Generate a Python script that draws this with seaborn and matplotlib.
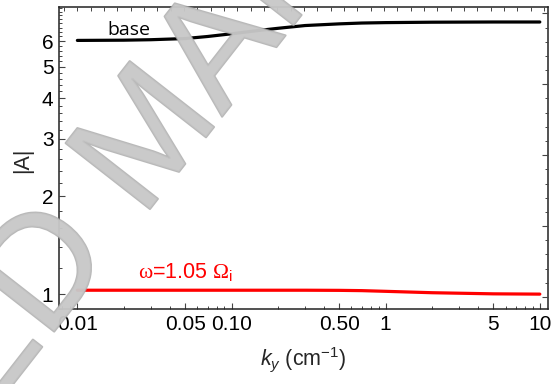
import numpy as np
import pandas as pd
import seaborn as sns
import matplotlib
matplotlib.use("Agg")
import matplotlib.pyplot as plt
from matplotlib import ticker, font_manager
from matplotlib.font_manager import FontProperties
from matplotlib.textpath import TextToPath
import matplotlib.patheffects as pe

# ---- data ----
ky = [0.01, 0.02, 0.03, 0.05, 0.07, 0.1, 0.15, 0.2, 0.3, 0.5, 0.7, 1, 2, 5, 10]
A_base = [6.03, 6.04, 6.06, 6.11, 6.20, 6.32, 6.47, 6.57, 6.70, 6.78, 6.82, 6.84, 6.86, 6.87, 6.87]
A_w105 = [1.028, 1.028, 1.028, 1.028, 1.028, 1.028, 1.028, 1.028, 1.028, 1.027, 1.025, 1.02, 1.01, 1.002, 1.0]
series = ["base", "w105"]
series_colors = {"base": "black", "w105": "#ff0000"}

x_major = [0.01, 0.05, 0.1, 0.5, 1, 5, 10]
x_major_labels = ["0.01", "0.05", "0.10", "0.50", "1", "5", "10"]
y_major = [1, 2, 3, 4, 5, 6]
y_major_labels = ["1", "2", "3", "4", "5", "6"]

df = pd.concat([
    pd.DataFrame({"ky": ky, "A": A_base, "series": "base"}),
    pd.DataFrame({"ky": ky, "A": A_w105, "series": "w105"}),
])

sns.set_theme(style="white")
plt.rcParams["font.family"] = ["Liberation Sans", "DejaVu Sans"]
plt.rcParams["mathtext.fontset"] = "custom"
plt.rcParams["mathtext.rm"] = "Liberation Serif"
plt.rcParams["mathtext.it"] = "Liberation Sans:italic"
plt.rcParams["mathtext.sf"] = "Liberation Sans"

W, H = 553, 384
fig = plt.figure(figsize=(W / 100, H / 100), dpi=100)
ax = fig.add_axes([59 / W, (H - 309) / H, 489 / W, 302 / H])

sns.lineplot(data=df, x="ky", y="A", hue="series", palette=series_colors,
             hue_order=series, legend=False, lw=2.3, ax=ax, estimator=None)

ax.set_xscale("log")
ax.set_yscale("log")
ax.set_xlim(0.0076, 11.3)
ax.set_ylim(0.9, 7.64)

ax.xaxis.set_major_locator(ticker.FixedLocator(x_major))
ax.xaxis.set_major_formatter(ticker.FixedFormatter(x_major_labels))
xminor = [v * d for d in [0.001, 0.01, 0.1, 1] for v in range(2, 10) if v != 5]
xminor += [0.008, 0.009]
ax.xaxis.set_minor_locator(ticker.FixedLocator(xminor))
ax.xaxis.set_minor_formatter(ticker.NullFormatter())

ax.yaxis.set_major_locator(ticker.FixedLocator(y_major))
ax.yaxis.set_major_formatter(ticker.FixedFormatter(y_major_labels))
yminor = [0.9, 1.2, 1.4, 1.6, 1.8, 2.2, 2.4, 2.6, 2.8, 3.2, 3.4, 3.6, 3.8,
          4.2, 4.4, 4.6, 4.8, 5.2, 5.4, 5.6, 5.8, 6.2, 6.4, 6.6, 6.8, 7.0, 7.2, 7.4, 7.6]
ax.yaxis.set_minor_locator(ticker.FixedLocator(yminor))
ax.yaxis.set_minor_formatter(ticker.NullFormatter())

tc = "#444444"
ax.tick_params(which="major", direction="in", length=4.5, width=0.8, color=tc,
               labelsize=15, labelcolor="black", pad=4, top=False, right=False)
ax.tick_params(which="minor", direction="in", length=2.5, width=0.7, color=tc,
               top=False, right=False)
for s in ax.spines.values():
    s.set_color("#222222")
    s.set_linewidth(1.1)

# linear frame ticks on top and right (as in the reference)
axt = ax.twiny()
axt.set_xlim(-0.375, 36.3)
axt.xaxis.set_major_locator(ticker.MultipleLocator(1))
axt.tick_params(axis="x", direction="in", length=3, width=0.7, color=tc,
                labeltop=False, top=True, bottom=False)
axr = ax.twinx()
axr.set_ylim(-0.85, 20.45)
axr.yaxis.set_major_locator(ticker.MultipleLocator(5))
axr.yaxis.set_minor_locator(ticker.MultipleLocator(1))
axr.tick_params(axis="y", which="major", direction="in", length=4.5, width=0.8, color=tc,
                labelright=False, right=True, left=False)
axr.tick_params(axis="y", which="minor", direction="in", length=2.5, width=0.7, color=tc,
                right=True, left=False)
for a in (axt, axr):
    a.grid(False)
    for s in a.spines.values():
        s.set_visible(False)

ax.set_xlabel("")
ax.set_ylabel("")
fig.text(303 / W, 1 - 360 / H, r"$k_y$ (cm$^{\mathsf{-1}}$)", fontsize=15.5,
         ha="center", va="center")
fig.text(23 / W, 1 - 160 / H, "|A|", fontsize=15.5, rotation=90,
         ha="center", va="center")

fig.text(107 / W, 1 - 35 / H, "base", fontsize=14, family=["Open Sans"],
         color="black", ha="left", va="baseline")
fig.text(138 / W, 1 - 278 / H, r"$\mathrm{\omega}$=1.05 $\mathrm{\Omega}_{\mathsf{i}}$",
         fontsize=15.5, color="#ff0000", ha="left", va="baseline")

# watermark fragment ("...ED MA...") drawn diagonally on top
names = {f.name for f in font_manager.fontManager.ttflist}
wm_family = "Liberation Sans Narrow" if "Liberation Sans Narrow" in names else "Liberation Sans"
wm_size = 137 if wm_family == "Liberation Sans Narrow" else 112
wm_text = "ED MAN"
prop = FontProperties(family=wm_family, size=wm_size)
t2p = TextToPath()
w_pre, _, _ = t2p.get_text_width_height_descent("ED ", prop, ismath=False)
w_m, _, _ = t2p.get_text_width_height_descent("M", prop, ismath=False)
px = 100 / 72.0
theta = np.deg2rad(52)
dirx, diry = np.cos(theta), np.sin(theta)          # baseline direction (y up)
mx, my = 182, H - 168                                # M baseline centre, pixels (y up)
back = (w_pre + w_m / 2) * px
ox, oy = mx - back * dirx, my - back * diry
fig.text(ox / W, oy / H, wm_text, fontsize=wm_size, family=[wm_family],
         color="#c8c8c8", alpha=0.8, rotation=52, rotation_mode="anchor",
         ha="left", va="baseline", zorder=20,
         path_effects=[pe.withStroke(linewidth=1.5, foreground="#a8a8a8")])

fig.savefig("out.png", dpi=100)
